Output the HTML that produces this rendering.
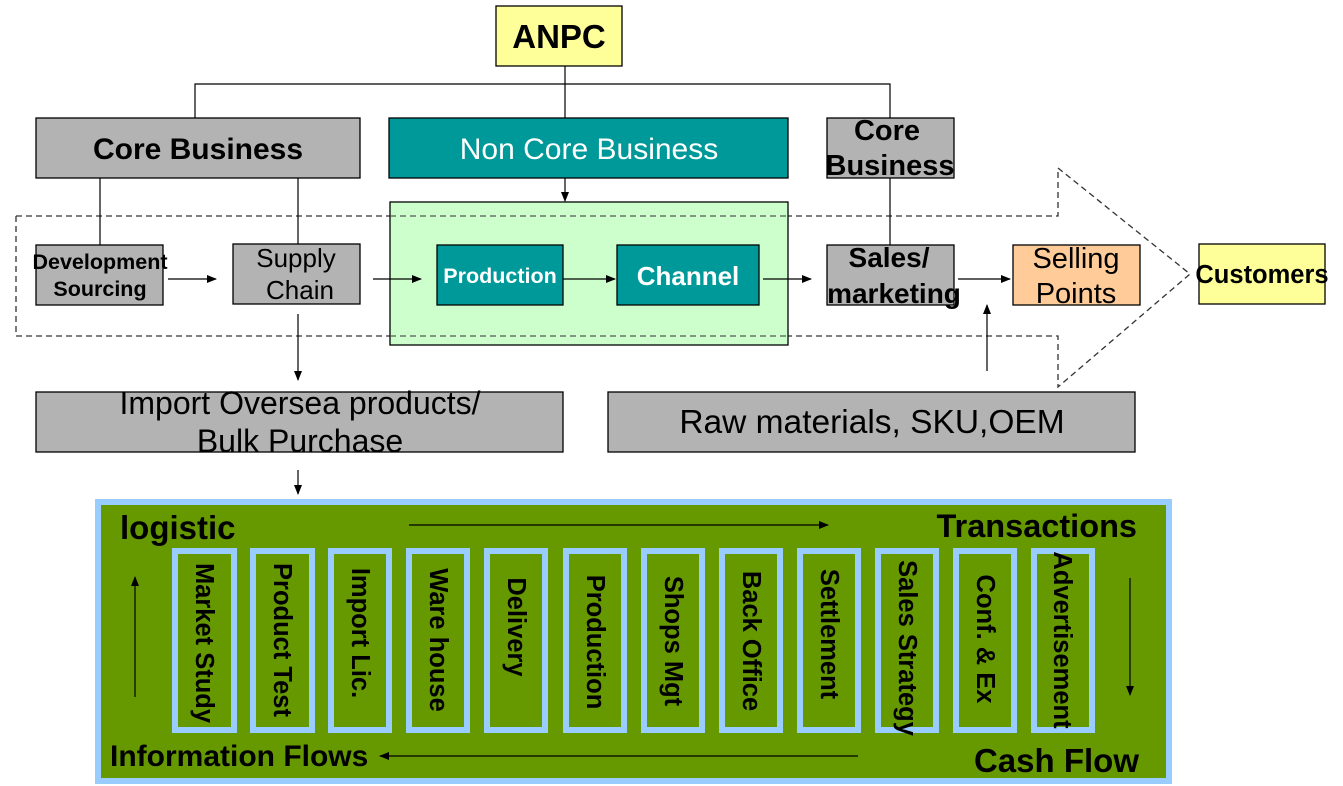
<!DOCTYPE html>
<html><head><meta charset="utf-8"><style>
html,body{margin:0;padding:0;background:#fff;}
svg{display:block;font-family:"Liberation Sans",Arial,sans-serif;}
</style></head><body>
<svg width="1343" height="786" viewBox="0 0 1343 786" xmlns="http://www.w3.org/2000/svg">
<defs>
<marker id="ar" markerWidth="10" markerHeight="8" refX="9" refY="4" orient="auto" markerUnits="userSpaceOnUse"><path d="M0,0 L10,4 L0,8 z" fill="#000"/></marker>
</defs>
<polygon points="16,216 1058,216 1058,168 1190,274 1058,387 1058,336 16,336" fill="none" stroke="#333" stroke-width="1.3" stroke-dasharray="6,4"/>
<rect x="496" y="6" width="126" height="60" fill="#ffff99" stroke="#000" stroke-width="1.3"/>
<text x="559" y="48" font-size="33" font-weight="bold" text-anchor="middle">ANPC</text>
<line x1="565" y1="66" x2="565" y2="118" stroke="#000" stroke-width="1.2"/>
<polyline points="195,118 195,84 890,84 890,118" fill="none" stroke="#000" stroke-width="1.2"/>
<rect x="36" y="118" width="324" height="60" fill="#b3b3b3" stroke="#000" stroke-width="1.3"/>
<text x="198" y="159" font-size="30" font-weight="bold" text-anchor="middle">Core Business</text>
<rect x="389" y="118" width="399" height="60" fill="#009999" stroke="#000" stroke-width="1.3"/>
<text x="589" y="159" font-size="30" fill="#fff" text-anchor="middle">Non Core Business</text>
<rect x="827" y="118" width="127" height="60" fill="#b3b3b3" stroke="#000" stroke-width="1.3"/>
<text x="887" y="140" font-size="29" font-weight="bold" text-anchor="middle">Core</text>
<text x="890" y="175" font-size="29" font-weight="bold" text-anchor="middle">Business</text>
<line x1="100" y1="178" x2="100" y2="245" stroke="#000" stroke-width="1.2"/>
<line x1="298" y1="178" x2="298" y2="244" stroke="#000" stroke-width="1.2"/>
<line x1="890" y1="178" x2="890" y2="245" stroke="#000" stroke-width="1.2"/>
<line x1="565" y1="178" x2="565" y2="201" stroke="#000" stroke-width="1.2" marker-end="url(#ar)"/>
<rect x="390" y="202" width="398" height="143" fill="#ccffcc" stroke="#000" stroke-width="1.3"/>
<line x1="390" y1="216" x2="788" y2="216" stroke="#555" stroke-width="1.2" stroke-dasharray="6,4"/>
<line x1="390" y1="336" x2="788" y2="336" stroke="#555" stroke-width="1.2" stroke-dasharray="6,4"/>
<rect x="36" y="245" width="127" height="60" fill="#b3b3b3" stroke="#000" stroke-width="1.3"/>
<text x="100" y="269" font-size="21.5" font-weight="bold" text-anchor="middle">Development</text>
<text x="100" y="296" font-size="21.5" font-weight="bold" text-anchor="middle">Sourcing</text>
<rect x="233" y="244" width="127" height="60" fill="#b3b3b3" stroke="#000" stroke-width="1.3"/>
<text x="296" y="267" font-size="26" text-anchor="middle">Supply</text>
<text x="300" y="299" font-size="26" text-anchor="middle">Chain</text>
<rect x="437" y="245" width="126" height="60" fill="#009999" stroke="#000" stroke-width="1.3"/>
<text x="500" y="283" font-size="21.5" font-weight="bold" fill="#fff" text-anchor="middle">Production</text>
<rect x="617" y="245" width="142" height="60" fill="#009999" stroke="#000" stroke-width="1.3"/>
<text x="688" y="285" font-size="26" font-weight="bold" fill="#fff" text-anchor="middle">Channel</text>
<rect x="827" y="245" width="127" height="60" fill="#b3b3b3" stroke="#000" stroke-width="1.3"/>
<text x="889" y="267" font-size="28" font-weight="bold" text-anchor="middle">Sales/</text>
<text x="894" y="303" font-size="28" font-weight="bold" text-anchor="middle">marketing</text>
<rect x="1013" y="245" width="127" height="60" fill="#ffcc99" stroke="#000" stroke-width="1.3"/>
<text x="1076" y="268" font-size="29" text-anchor="middle">Selling</text>
<text x="1076" y="303" font-size="29" text-anchor="middle">Points</text>
<rect x="1199" y="244" width="126" height="60" fill="#ffff99" stroke="#000" stroke-width="1.3"/>
<text x="1262" y="283" font-size="25.5" font-weight="bold" text-anchor="middle">Customers</text>
<line x1="168" y1="279" x2="216" y2="279" stroke="#000" stroke-width="1.2" marker-end="url(#ar)"/>
<line x1="373" y1="279" x2="421" y2="279" stroke="#000" stroke-width="1.2" marker-end="url(#ar)"/>
<line x1="563" y1="279" x2="615" y2="279" stroke="#000" stroke-width="1.2" marker-end="url(#ar)"/>
<line x1="763" y1="279" x2="811" y2="279" stroke="#000" stroke-width="1.2" marker-end="url(#ar)"/>
<line x1="958" y1="279" x2="1010" y2="279" stroke="#000" stroke-width="1.2" marker-end="url(#ar)"/>
<line x1="987" y1="371" x2="987" y2="305" stroke="#000" stroke-width="1.2" marker-end="url(#ar)"/>
<line x1="298" y1="314" x2="298" y2="380" stroke="#000" stroke-width="1.2" marker-end="url(#ar)"/>
<rect x="36" y="392" width="527" height="60" fill="#b3b3b3" stroke="#000" stroke-width="1.3"/>
<text x="300" y="414" font-size="32" text-anchor="middle">Import Oversea products/</text>
<text x="300" y="452" font-size="32" text-anchor="middle">Bulk Purchase</text>
<rect x="608" y="392" width="527" height="60" fill="#b3b3b3" stroke="#000" stroke-width="1.3"/>
<text x="872" y="433" font-size="33.5" text-anchor="middle">Raw materials, SKU,OEM</text>
<line x1="298" y1="470" x2="298" y2="494" stroke="#000" stroke-width="1.2" marker-end="url(#ar)"/>
<rect x="98" y="502" width="1071" height="279" fill="#669900" stroke="#99ccff" stroke-width="6"/>
<text x="120" y="539" font-size="33" font-weight="bold">logistic</text>
<text x="1137" y="537" font-size="32.5" font-weight="bold" text-anchor="end">Transactions</text>
<text x="110" y="766" font-size="30" font-weight="bold">Information Flows</text>
<text x="1139" y="772" font-size="33" font-weight="bold" text-anchor="end">Cash Flow</text>
<line x1="409" y1="525" x2="828" y2="525" stroke="#000" stroke-width="1.2" marker-end="url(#ar)"/>
<line x1="858" y1="756" x2="380" y2="756" stroke="#000" stroke-width="1.2" marker-end="url(#ar)"/>
<line x1="135" y1="697" x2="135" y2="577" stroke="#000" stroke-width="1.2" marker-end="url(#ar)"/>
<line x1="1130" y1="578" x2="1130" y2="695" stroke="#000" stroke-width="1.2" marker-end="url(#ar)"/>
<g fill="none" stroke="#99ccff" stroke-width="6">
<rect x="175" y="551" width="59" height="179"/>
<rect x="253" y="551" width="59" height="179"/>
<rect x="331" y="551" width="58" height="179"/>
<rect x="409" y="551" width="58" height="179"/>
<rect x="487" y="551" width="58" height="179"/>
<rect x="566" y="551" width="58" height="179"/>
<rect x="644" y="551" width="58" height="179"/>
<rect x="722" y="551" width="58" height="179"/>
<rect x="800" y="551" width="58" height="179"/>
<rect x="878" y="551" width="58" height="179"/>
<rect x="956" y="551" width="58" height="179"/>
<rect x="1034" y="551" width="58" height="179"/>
</g>
<g font-size="25.5" font-weight="bold" text-anchor="middle">
<text transform="translate(196,643) rotate(90)">Market Study</text>
<text transform="translate(274,640) rotate(90)">Product Test</text>
<text transform="translate(352,633) rotate(90)">Import Lic.</text>
<text transform="translate(430,640) rotate(90)">Ware house</text>
<text transform="translate(508,627) rotate(90)">Delivery</text>
<text transform="translate(587,642) rotate(90)">Production</text>
<text transform="translate(665,641) rotate(90)">Shops Mgt</text>
<text transform="translate(743,641) rotate(90)">Back Office</text>
<text transform="translate(821,634) rotate(90)">Settlement</text>
<text transform="translate(899,648) rotate(90)">Sales Strategy</text>
<text transform="translate(977,639) rotate(90)">Conf. &amp; Ex</text>
<text transform="translate(1054,640) rotate(90)">Advertisement</text>
</g>
</svg>
</body></html>
